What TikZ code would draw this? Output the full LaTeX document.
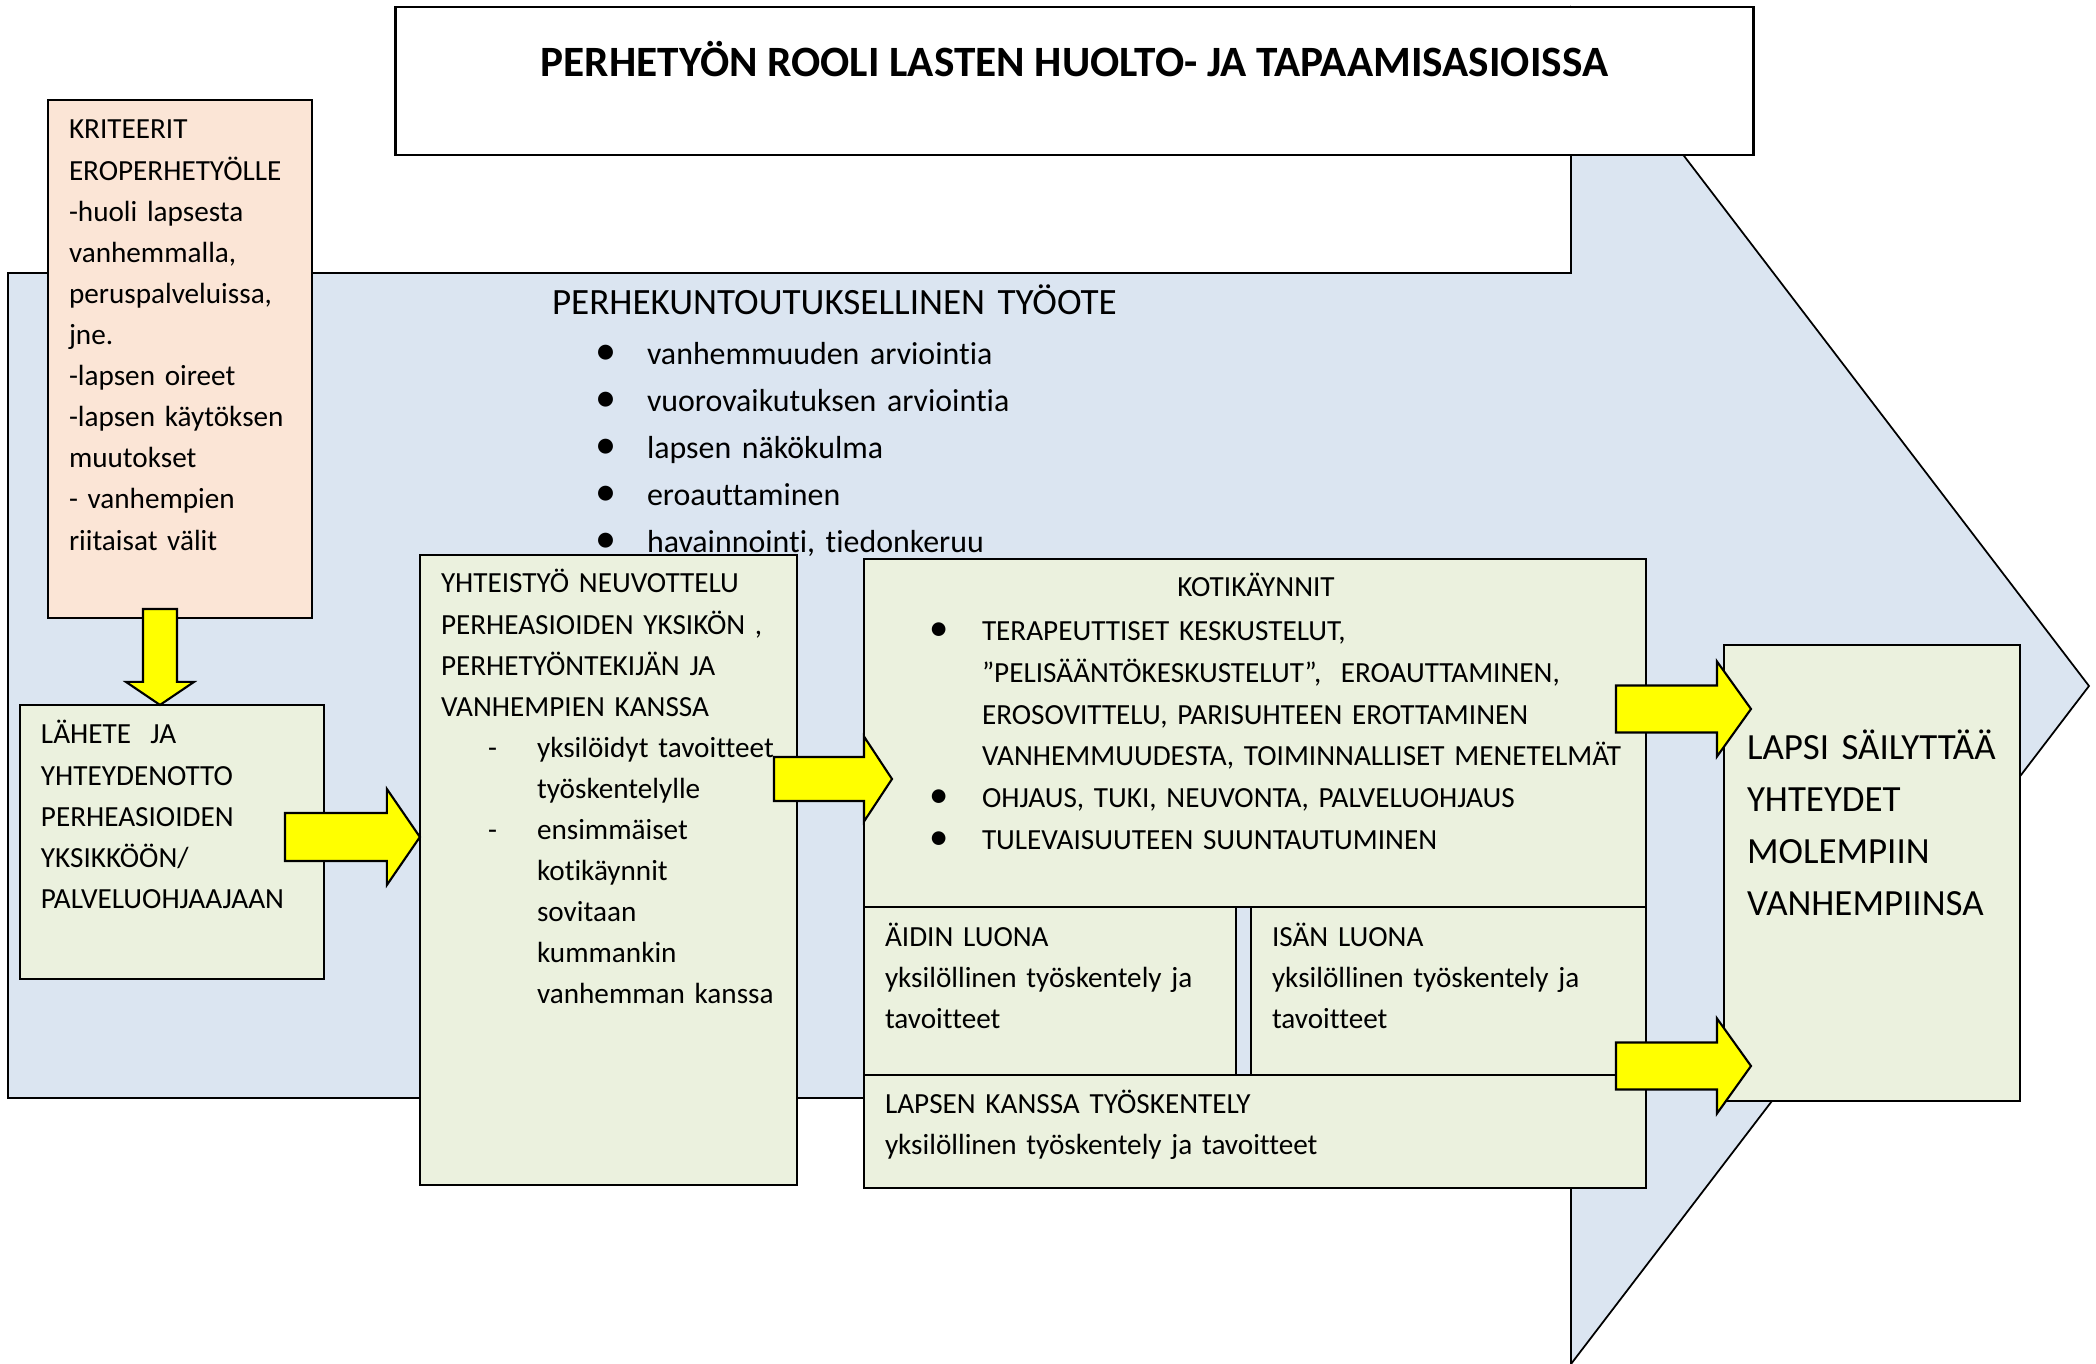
\documentclass[tikz,border=0pt]{standalone}
\usepackage{fontspec}
\setmainfont{Carlito}[Ligatures=NoCommon]
\usetikzlibrary{calc}
\newdimen\px \px=0.28453pt
\definecolor{bluefill}{HTML}{DBE5F1}
\definecolor{greenfill}{HTML}{EBF1DE}
\definecolor{peachfill}{HTML}{FBE5D6}
\definecolor{yel}{HTML}{FFFF00}
\newcommand{\bulA}{\leavevmode\llap{\hbox to 82\px{\hss{\fontsize{12}{12}\selectfont\textbullet}\hss}}}
\newcommand{\bulK}{\leavevmode\llap{\hbox to 86\px{\hss{\fontsize{11}{11}\selectfont\textbullet}\hss}}}
\newcommand{\ydash}{\hspace*{47\px}\makebox[49\px][l]{-}}
\newcommand{\yind}{\hspace*{96\px}}
\newcommand{\harrow}[5]{%
  \draw[blockarrow] ($(#1)+(0,-#3)$) -- ($(#2)+(-#5,-#3)$) -- ($(#2)+(-#5,-#4)$) -- (#2)
    -- ($(#2)+(-#5,#4)$) -- ($(#2)+(-#5,#3)$) -- ($(#1)+(0,#3)$) -- cycle;}
\newcommand{\varrow}[5]{%
  \draw[blockarrow] ($(#1)+(-#3,0)$) -- ($(#2)+(-#3,-#5)$) -- ($(#2)+(-#4,-#5)$) -- (#2)
    -- ($(#2)+(#4,-#5)$) -- ($(#2)+(#3,-#5)$) -- ($(#1)+(#3,0)$) -- cycle;}
\tikzset{
  greenbox/.style={draw=black, line width=0.6pt, fill=greenfill, rectangle, inner sep=0pt, outer sep=0pt},
  peachbox/.style={draw=black, line width=0.6pt, fill=peachfill, rectangle, inner sep=0pt, outer sep=0pt},
  titlebox/.style={draw=black, line width=0.7pt, fill=white, rectangle, inner sep=0pt, outer sep=0pt},
  txt/.style={anchor=base west, inner sep=0pt, outer sep=0pt, align=left, font=\fontsize{8.3}{11.69}\selectfont},
  blockarrow/.style={draw=black, line width=0.6pt, fill=yel, line join=miter},
  bigarrow/.style={draw=black, line width=0.5pt, fill=bluefill, line join=miter},
}
\begin{document}
\begin{tikzpicture}[x=0.01cm, y=-0.01cm]
\useasboundingbox (0,0) rectangle (2096,1364);
% big background arrow
\draw[bigarrow] (8,273) -- (1571,273) -- (1571,8) -- (2089,686) -- (1571,1364) -- (1571,1098) -- (8,1098) -- cycle;
% title
\node[titlebox, minimum width=13.57cm, minimum height=1.48cm] (title) at (1074.5,81) {};
\node[anchor=base, inner sep=0pt, font=\bfseries\fontsize{12.3}{14}\selectfont] (titletext) at (1074.5,77) {PERHETYÖN ROOLI LASTEN HUOLTO- JA TAPAAMISASIOISSA};
% criteria
\node[peachbox, minimum width=2.64cm, minimum height=5.18cm] (krit) at (180,359) {};
\node[txt, text width=2.4cm] (kritt) at (69,139) {KRITEERIT\\EROPERHETYÖLLE\\-huoli lapsesta\\vanhemmalla,\\peruspalveluissa,\\jne.\\-lapsen oireet\\-lapsen käytöksen\\muutokset\\- vanhempien\\riitaisat välit};
% blue heading and list
\node[txt, text width=6.5cm, font=\fontsize{10.55}{13}\selectfont] (bhead) at (552,315) {PERHEKUNTOUTUKSELLINEN TYÖOTE};
\node[txt, text width=4.5cm, font=\fontsize{9.07}{13.3}\selectfont] (blist) at (647,365) {\bulA vanhemmuuden arviointia\\\bulA vuorovaikutuksen arviointia\\\bulA lapsen näkökulma\\\bulA eroauttaminen\\\bulA havainnointi, tiedonkeruu};
% boxes
\node[greenbox, minimum width=3.04cm, minimum height=2.74cm] (lahete) at (172,842) {};
\node[greenbox, minimum width=3.77cm, minimum height=6.30cm] (yht) at (608.5,870) {};
\node[greenbox, minimum width=7.82cm, minimum height=3.48cm] (koti) at (1255,733) {};
\node[greenbox, minimum width=3.72cm, minimum height=1.68cm] (aidin) at (1050,991) {};
\node[greenbox, minimum width=3.95cm, minimum height=1.68cm] (isan) at (1448.5,991) {};
\node[greenbox, minimum width=7.82cm, minimum height=1.13cm] (lapsen) at (1255,1131.5) {};
\node[greenbox, minimum width=2.96cm, minimum height=4.56cm] (lapsi) at (1872,873) {};
% texts
\node[txt, text width=2.8cm] (lahetet) at (41,744) {LÄHETE\ \ JA\\YHTEYDENOTTO\\PERHEASIOIDEN\\YKSIKKÖÖN/\\PALVELUOHJAAJAAN};
\node[txt, text width=3.6cm, font=\fontsize{8.3}{11.67}\selectfont] (yhtt) at (441,593) {YHTEISTYÖ NEUVOTTELU\\PERHEASIOIDEN YKSIKÖN ,\\PERHETYÖNTEKIJÄN JA\\VANHEMPIEN KANSSA\\\ydash yksilöidyt tavoitteet\\\yind työskentelylle\\\ydash ensimmäiset\\\yind kotikäynnit\\\yind sovitaan\\\yind kummankin\\\yind vanhemman kanssa};
\node[anchor=base, inner sep=0pt, font=\fontsize{8.3}{11.84}\selectfont] (kotit) at (1256,597) {KOTIKÄYNNIT};
\node[txt, text width=6.8cm, font=\fontsize{8.3}{11.84}\selectfont] (kotil) at (982,641) {\bulK TERAPEUTTISET KESKUSTELUT,\\”PELISÄÄNTÖKESKUSTELUT”,\ \ EROAUTTAMINEN,\\EROSOVITTELU, PARISUHTEEN EROTTAMINEN\\VANHEMMUUDESTA, TOIMINNALLISET MENETELMÄT\\\bulK OHJAUS, TUKI, NEUVONTA, PALVELUOHJAUS\\\bulK TULEVAISUUTEEN SUUNTAUTUMINEN};
\node[txt, text width=3.5cm] (aidint) at (885,946) {ÄIDIN LUONA\\yksilöllinen työskentely ja\\tavoitteet};
\node[txt, text width=3.6cm] (isant) at (1272,946) {ISÄN LUONA\\yksilöllinen työskentely ja\\tavoitteet};
\node[txt, text width=7.4cm] (lapsent) at (885,1113) {LAPSEN KANSSA TYÖSKENTELY\\yksilöllinen työskentely ja tavoitteet};
\node[txt, text width=2.7cm, font=\fontsize{10.5}{14.8}\selectfont] (lapsit) at (1747,759) {LAPSI SÄILYTTÄÄ\\YHTEYDET\\MOLEMPIIN\\VANHEMPIINSA};
% arrows
\coordinate (a1s) at (160,609);
\coordinate (a1e) at (a1s |- lahete.north);
\varrow{a1s}{a1e}{17}{34}{23}
\coordinate (a2s) at (285,837);
\coordinate (a2e) at (a2s -| yht.west);
\harrow{a2s}{a2e}{24}{48}{33}
\coordinate (a3s) at (774,779);
\coordinate (a3e) at (892,779);
\harrow{a3s}{a3e}{22}{42.5}{28}
\coordinate (a4s) at (1616,709);
\coordinate (a4e) at (1751,709);
\harrow{a4s}{a4e}{23.5}{47.5}{34}
\coordinate (a5s) at (1616,1066);
\coordinate (a5e) at (1751,1066);
\harrow{a5s}{a5e}{23.5}{47.5}{34}
\end{tikzpicture}
\end{document}
